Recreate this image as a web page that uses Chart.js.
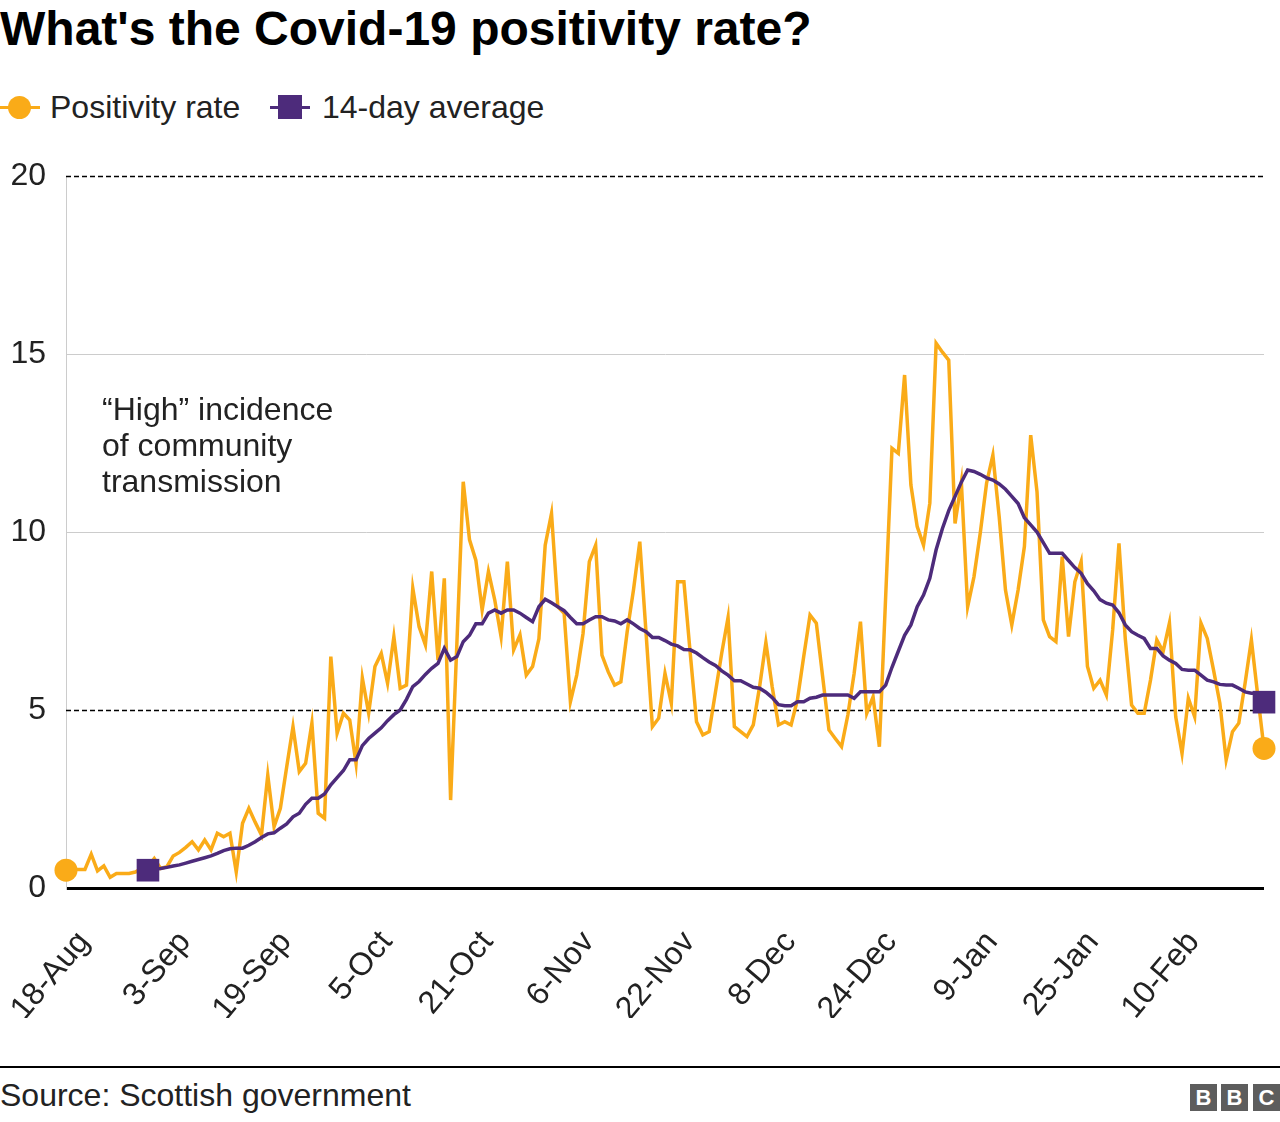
<!DOCTYPE html>
<html>
<head>
<meta charset="utf-8">
<title>Covid-19 positivity rate</title>
<script src="https://cdn.jsdelivr.net/npm/chart.js@4.4.0/dist/chart.umd.min.js"></script>
<style>
    body { margin: 0; width: 1280px; height: 1122px; background: #fff; position: relative; overflow: hidden;
           font-family: "Liberation Sans", Arial, sans-serif; color: #222; }
    .title { position: absolute; left: 0; top: 5px; font-size: 48px; line-height: 48px; font-weight: bold; color: #000; white-space: nowrap; }
    .legend { position: absolute; left: 0; top: 89px; height: 36px; font-size: 32px; line-height: 36px; }
    .legend-item { position: absolute; top: 0; white-space: nowrap; }
    .legend-line { position: absolute; top: 17px; width: 40px; height: 3px; }
    .legend-dot { position: absolute; top: 7px; width: 23px; height: 23px; border-radius: 50%; }
    .legend-sq { position: absolute; top: 6px; width: 24px; height: 24px; }
    .legend-text { position: absolute; top: 0; }
    .note { position: absolute; left: 102px; top: 391px; font-size: 32px; line-height: 36px; }
    .chart-box { position: absolute; left: 0; top: 150px; width: 1280px; height: 868px; }
    .rule { position: absolute; left: 0; top: 1066px; width: 1280px; height: 2px; background: #000; }
    .source { position: absolute; left: 0; top: 1077px; font-size: 32px; line-height: 36px; }
    .bbc { position: absolute; top: 1084px; width: 27px; height: 27px; background: #5d5d5d; color: #fff;
           font-weight: bold; font-size: 22px; line-height: 27px; text-align: center; }
</style>
</head>
<body>
    <div class="title">What's the Covid-19 positivity rate?</div>

    <div class="legend">
        <div class="legend-item" style="left:0">
            <div class="legend-line" style="left:0;background:#faab18"></div>
            <div class="legend-dot" style="left:8px;background:#faab18"></div>
            <div class="legend-text" style="left:50px">Positivity rate</div>
        </div>
        <div class="legend-item" style="left:270px">
            <div class="legend-line" style="left:0;background:#4d2b7b"></div>
            <div class="legend-sq" style="left:8px;background:#4d2b7b"></div>
            <div class="legend-text" style="left:52px">14-day average</div>
        </div>
    </div>

    <div class="chart-box"><canvas id="rateChart" width="1280" height="868"></canvas></div>
    <div class="note" id="note"></div>

    <div class="rule"></div>
    <div class="source">Source: Scottish government</div>
    <div class="bbc" style="left:1190px">B</div>
    <div class="bbc" style="left:1221px">B</div>
    <div class="bbc" style="left:1253px">C</div>

<script>
        // Daily values, one per day starting 18 Aug
        const startDate = [2020, 7, 18];
        const monthNames = ['Jan', 'Feb', 'Mar', 'Apr', 'May', 'Jun', 'Jul', 'Aug', 'Sep', 'Oct', 'Nov', 'Dec'];
        const tickEvery = 16;

        const positivityRate = [
            0.5, 0.52, 0.52, 0.52, 0.95, 0.48, 0.62, 0.3, 0.41, 0.41,
            0.41, 0.45, 0.55, 0.6, 0.83, 0.55, 0.6, 0.9, 1.0, 1.14,
            1.3, 1.07, 1.35, 1.07, 1.54, 1.44, 1.54, 0.45, 1.82, 2.24,
            1.85, 1.49, 3.17, 1.72, 2.24, 3.4, 4.53, 3.27, 3.5, 4.63,
            2.1, 1.96, 6.5, 4.35, 4.91, 4.72, 3.5, 5.9, 4.91, 6.22,
            6.59, 5.75, 7.06, 5.61, 5.7, 8.42, 7.34, 6.83, 8.89, 6.4,
            8.7, 2.47, 6.9, 11.41, 9.78, 9.21, 7.81, 8.89, 8.09, 7.06,
            9.17, 6.69, 7.11, 5.98, 6.22, 7.0, 9.63, 10.52, 7.9, 7.72,
            5.23, 5.98, 7.15, 9.17, 9.63, 6.54, 6.07, 5.7, 5.79, 7.2,
            8.37, 9.73, 7.15, 4.53, 4.77, 6.03, 5.19, 8.6, 8.6, 6.6,
            4.67, 4.3, 4.39, 5.5, 6.6, 7.6, 4.53, 4.39, 4.25, 4.58,
            5.65, 6.9, 5.65, 4.58, 4.67, 4.58, 5.28, 6.5, 7.67, 7.44,
            5.94, 4.44, 4.2, 3.97, 4.86, 6.03, 7.48, 4.91, 5.37, 3.97,
            8.2, 12.35, 12.21, 14.41, 11.32, 10.15, 9.63, 10.81, 15.3, 15.05,
            14.83, 10.24, 11.4, 7.9, 8.74, 9.97, 11.37, 12.16, 10.43, 8.37,
            7.39, 8.37, 9.59, 12.72, 11.13, 7.53, 7.06, 6.92, 9.31, 7.06,
            8.6, 9.17, 6.22, 5.61, 5.84, 5.42, 7.25, 9.68, 7.0, 5.14,
            4.91, 4.91, 5.84, 6.97, 6.64, 7.44, 4.81, 3.78, 5.33, 4.81,
            7.44, 7.01, 6.12, 5.19, 3.6, 4.39, 4.63, 5.75, 6.97, 5.42,
            3.92
        ];

        const average14 = [
            null, null, null, null, null, null, null, null, null, null,
            null, null, null, 0.5, 0.53, 0.55, 0.58, 0.62, 0.65, 0.7,
            0.75, 0.8, 0.85, 0.9, 0.97, 1.05, 1.1, 1.12, 1.12, 1.2,
            1.3, 1.42, 1.52, 1.55, 1.68, 1.8, 2.0, 2.1, 2.35, 2.52,
            2.52, 2.64, 2.9, 3.1, 3.3, 3.6, 3.6, 4.0, 4.2, 4.35,
            4.5, 4.7, 4.87, 5.0, 5.3, 5.66, 5.8, 6.0, 6.17, 6.31,
            6.73, 6.4, 6.5, 6.92, 7.1, 7.42, 7.42, 7.72, 7.81, 7.72,
            7.81, 7.81, 7.72, 7.6, 7.48, 7.9, 8.11, 8.01, 7.9, 7.79,
            7.6, 7.42, 7.42, 7.53, 7.62, 7.62, 7.53, 7.5, 7.42, 7.53,
            7.42, 7.29, 7.2, 7.04, 7.04, 6.95, 6.85, 6.8, 6.7, 6.69,
            6.6, 6.47, 6.35, 6.25, 6.1, 5.98, 5.82, 5.82, 5.73, 5.64,
            5.61, 5.5, 5.35, 5.15, 5.12, 5.12, 5.23, 5.23, 5.33, 5.36,
            5.42, 5.42, 5.42, 5.42, 5.42, 5.33, 5.51, 5.51, 5.51, 5.51,
            5.7, 6.2, 6.65, 7.1, 7.39, 7.9, 8.23, 8.7, 9.5, 10.1,
            10.6, 11.0, 11.4, 11.74, 11.7, 11.62, 11.52, 11.46, 11.35, 11.2,
            11.0, 10.8, 10.4, 10.2, 10.0, 9.7, 9.4, 9.4, 9.4, 9.2,
            9.0, 8.84, 8.55, 8.35, 8.1, 8.0, 7.95, 7.73, 7.39, 7.2,
            7.1, 7.01, 6.73, 6.73, 6.52, 6.4, 6.31, 6.14, 6.12, 6.12,
            5.98, 5.84, 5.79, 5.72, 5.7, 5.7, 5.61, 5.51, 5.47, 5.47,
            5.22
        ];

        const yTicks = [0, 5, 10, 15, 20];
        const dashedLevels = [5, 20];
        const noteLines = ['\u201cHigh\u201d incidence', 'of community', 'transmission'];

        const orange = '#faab18';
        const purple = '#4d2b7b';

        // Build day labels like "18-Aug"
        const dayLabels = positivityRate.map((v, i) => {
            const d = new Date(startDate[0], startDate[1], startDate[2] + i);
            return d.getDate() + '-' + monthNames[d.getMonth()];
        });

        document.getElementById('note').innerHTML = noteLines.join('<br>');

        const lastIndex = positivityRate.length - 1;
        const avgStart = average14.findIndex(v => v !== null);

        // Dashed reference lines at 5 and 20
        const dashedLines = {
            id: 'dashedLines',
            beforeDatasetsDraw(chart) {
                const { ctx, chartArea, scales: { y } } = chart;
                ctx.save();
                ctx.strokeStyle = '#000';
                ctx.lineWidth = 1.5;
                ctx.setLineDash([5, 3]);
                dashedLevels.forEach(level => {
                    const py = Math.round(y.getPixelForValue(level)) + 0.5;
                    ctx.beginPath();
                    ctx.moveTo(chartArea.left, py);
                    ctx.lineTo(chartArea.right, py);
                    ctx.stroke();
                });
                ctx.restore();
            }
        };

        Chart.defaults.font.family = '"Liberation Sans", Arial, sans-serif';
        Chart.defaults.font.size = 32;
        Chart.defaults.color = '#222';

        new Chart(document.getElementById('rateChart'), {
            type: 'line',
            data: {
                labels: dayLabels,
                datasets: [
                    {
                        label: '14-day average',
                        data: average14,
                        borderColor: purple,
                        backgroundColor: purple,
                        borderWidth: 3.5,
                        pointStyle: 'rect',
                        pointRadius: ctx => (ctx.dataIndex === avgStart || ctx.dataIndex === lastIndex) ? 16 : 0,
                        pointBorderWidth: 0,
                        pointHoverRadius: 0,
                        tension: 0,
                        clip: false
                    },
                    {
                        label: 'Positivity rate',
                        data: positivityRate,
                        borderColor: orange,
                        backgroundColor: orange,
                        borderWidth: 3.5,
                        pointStyle: 'circle',
                        pointRadius: ctx => (ctx.dataIndex === 0 || ctx.dataIndex === lastIndex) ? 11.5 : 0,
                        pointBorderWidth: 0,
                        pointHoverRadius: 0,
                        tension: 0,
                        clip: false
                    }
                ]
            },
            options: {
                responsive: false,
                animation: false,
                layout: { padding: { top: 26, right: 15, left: 0, bottom: 0 } },
                plugins: {
                    legend: { display: false },
                    tooltip: { enabled: false }
                },
                scales: {
                    x: {
                        afterFit: scale => {
                            scale.height = 130;
                            scale.paddingLeft = 0;
                            scale.paddingRight = 0;
                        },
                        grid: { display: false },
                        border: { display: false },
                        ticks: {
                            autoSkip: false,
                            minRotation: 50,
                            maxRotation: 50,
                            padding: 28,
                            labelOffset: 18,
                            color: '#222',
                            callback: function (value, index) {
                                return index % tickEvery === 0 ? this.getLabelForValue(value) : '';
                            }
                        }
                    },
                    y: {
                        min: 0,
                        max: 20,
                        afterFit: scale => {
                            scale.width = 66;
                            scale.paddingTop = 0;
                            scale.paddingBottom = 0;
                        },
                        afterBuildTicks: scale => { scale.ticks = yTicks.map(v => ({ value: v })); },
                        border: { display: true, color: '#cccccc', width: 1 },
                        grid: {
                            drawTicks: false,
                            color: ctx => {
                                const v = ctx.tick.value;
                                if (v === 0) return '#000';
                                if (dashedLevels.includes(v)) return 'rgba(0,0,0,0)';
                                return '#cccccc';
                            },
                            lineWidth: ctx => ctx.tick.value === 0 ? 3 : 1
                        },
                        ticks: { padding: 20, color: '#222' }
                    }
                }
            },
            plugins: [dashedLines]
        });
</script>
</body>
</html>
